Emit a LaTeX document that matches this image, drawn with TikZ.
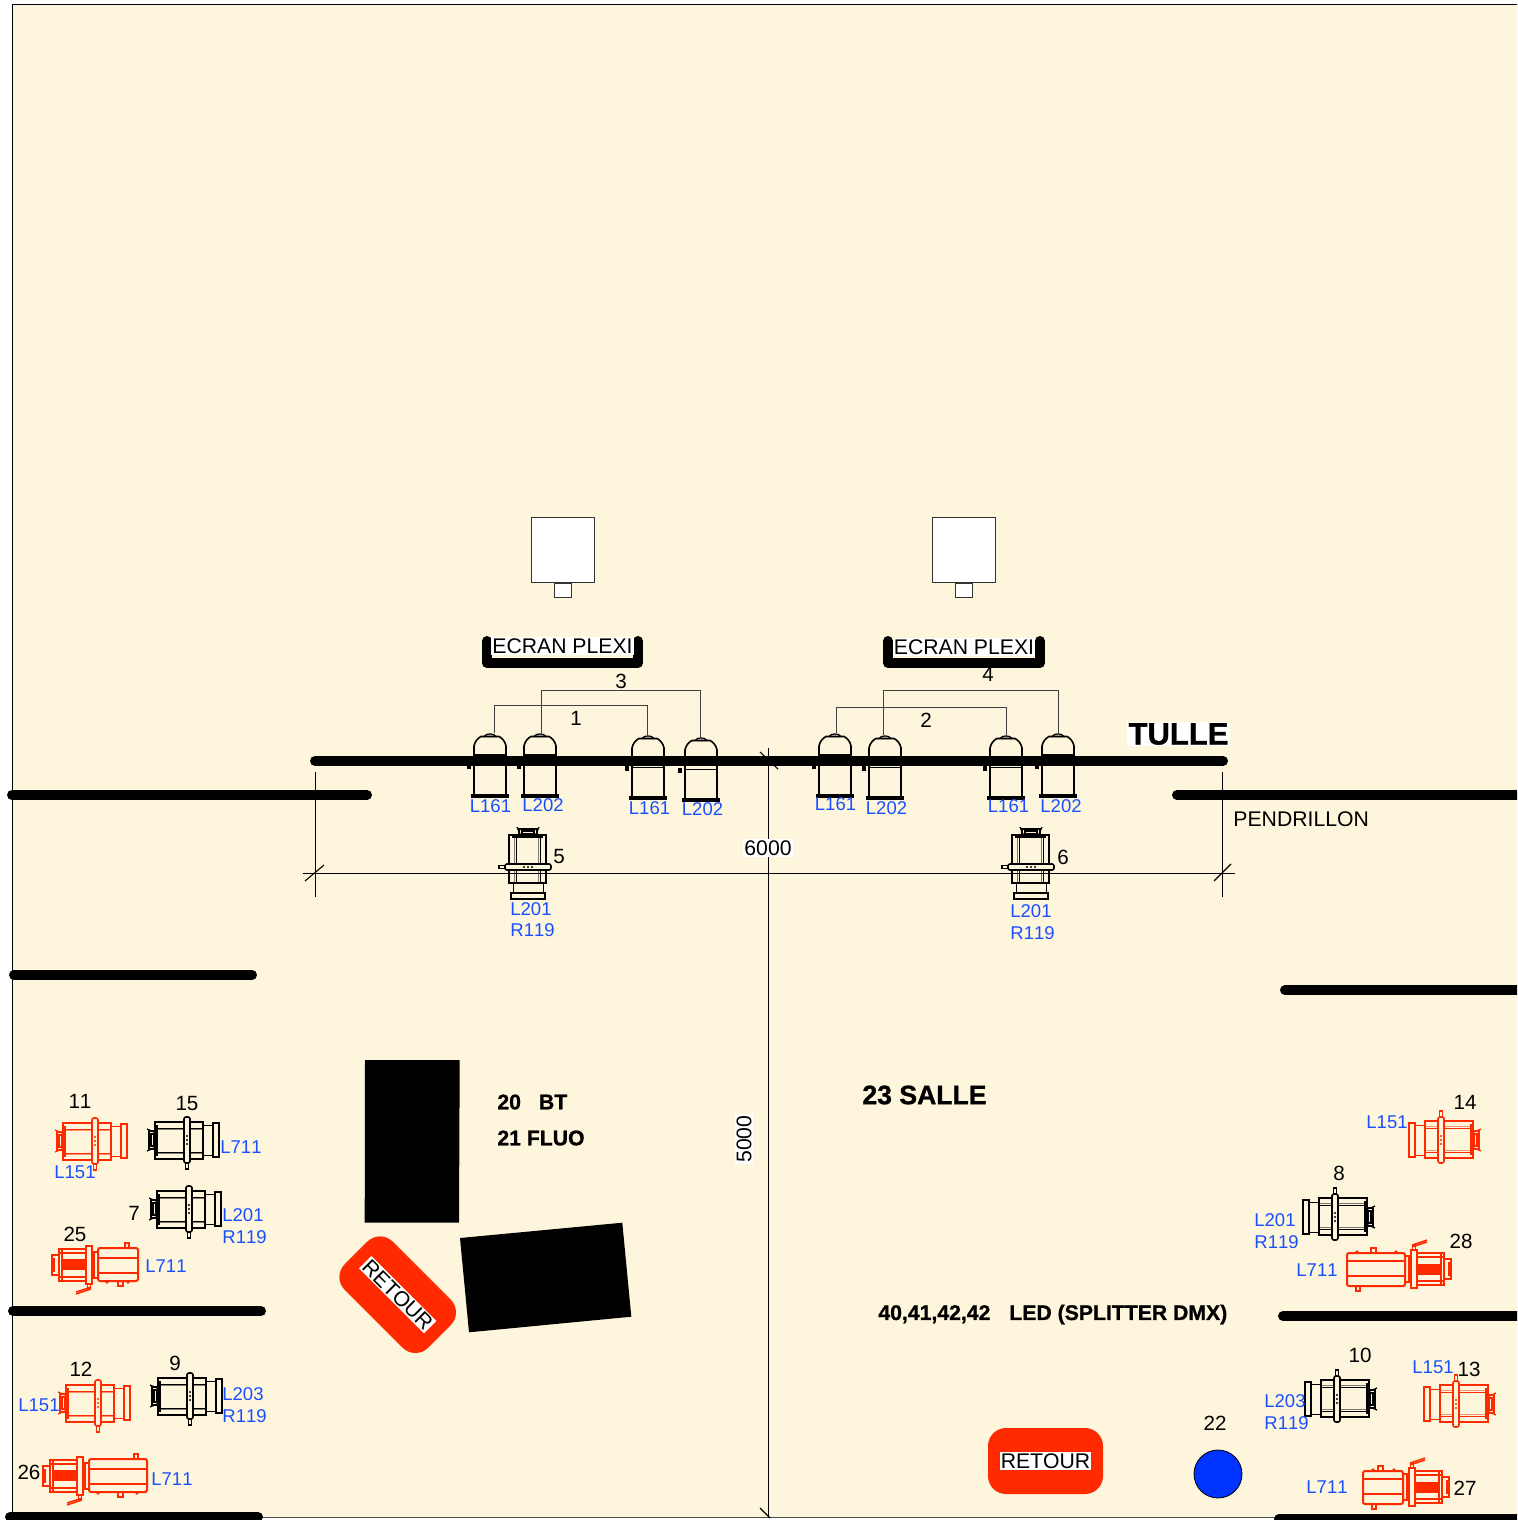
\documentclass[tikz,border=0pt]{standalone}
\usepackage{fontspec}
\setmainfont{Liberation Sans}[Kerning=Off]
\newfontfamily\heavyfont[FakeBold=1,Kerning=Off]{Liberation Sans Bold}
\definecolor{cream}{HTML}{FDF5DC}
\definecolor{plotred}{HTML}{FF2A00}
\definecolor{gelblue}{HTML}{1A4FFF}
\definecolor{disc}{HTML}{0033FF}
\tikzset{
  curtain/.style={line width=5pt,line cap=round},
  thin line/.style={line width=.45pt,black},
  wire/.style={line width=.5pt,black!75},
  blocker/.style={fill=black,draw=none},
  numlabel/.style={font=\fontsize{10.3}{12}\selectfont,inner sep=0pt},
  gel/.style={font=\fontsize{9.25}{10.8}\selectfont,text=gelblue,inner sep=0pt},
  gelpair/.style={gel,align=left,anchor=west},
  plain/.style={font=\fontsize{10.6}{12}\selectfont,inner sep=0pt,text=black},
  whitetext/.style={plain,fill=white,inner sep=.6pt},
  heavy/.style={font=\heavyfont\fontsize{10.6}{12}\selectfont,inner sep=0pt,anchor=west},
  tray/.style={line width=5pt,line cap=round,line join=round},
  screenbox/.style={draw=black!80,line width=.5pt,fill=white},
  retourbox/.style={fill=plotred,minimum width=57.5pt,minimum height=33pt,rounded corners=9pt,inner sep=0pt},
  pics/parcan/.style={code={
    \draw[line width=.8pt,black] (-16,23)--(-16,13) .. controls (-15,8) and (-12,5) .. (-9,3.5)--(9,3.5) .. controls (12,5) and (15,8) .. (16,13)--(16,23);
    \draw[line width=.6pt,black,fill=black!35] (-6,3.5) .. controls (-4,0) and (4,0) .. (6,3.5)--cycle;
    \draw[line width=.8pt,black] (-17,22)--(17,22);
    \draw[line width=.8pt,black] (-16,23)--(-16,62) (16,23)--(16,62);
    \fill[black] (-19,61) rectangle (19,64.5);
    \fill[black] (-23,31) rectangle (-19,36);
    \draw[line width=.5pt,black] (-16,32)--(16,32);
  }},
  pics/spotunit/.style={code={
    \begin{scope}[draw=#1,line width=.5pt]
    \draw[line width=.9pt] (-32,-18) rectangle (16,19);
    \draw (-32,-12)--(16,-12) (-32,12)--(16,12);
    \draw[draw opacity=.5] (-32,-10.5)--(16,-10.5) (-32,13.5)--(16,13.5);
    \draw[line width=.7pt] (-30,-15)--(-30,16);
    \draw (16,-15)--(26,-15) (16,15)--(26,15);
    \draw[line width=.85pt] (26,-17) rectangle (32,17);
    \draw[line width=.8pt] (-32,-9)--(-38,-9)--(-38,9)--(-32,9);
    \draw[line width=.6pt] (-36,-6) rectangle (-33,6);
    \draw[line width=.6pt] (-40,-11)--(-33,-8) (-40,11)--(-33,8);
    \draw[fill=cream,rounded corners=1pt,line width=.8pt] (-3,-23) rectangle (3,23);
    \draw[line width=.6pt] (-1.5,23) rectangle (1.5,29);
    \fill[#1] (0,-4) circle (1.2) (0,0) circle (1.2) (0,4) circle (1.2);
    \end{scope}
  }},
  pics/ledunit/.style 2 args={code={
    \begin{scope}[draw=#1,line width=.55pt]
    \draw[line width=.9pt] (-30,-16) rectangle (-3,16);
    \draw (-30,-12)--(-3,-12) (-30,12)--(-3,12);
    \draw (-27,-16)--(-27,16);
    \fill[#1] (-26,-6) rectangle (-3,5);
    \draw[line width=.8pt] (-30,-10)--(-37,-10)--(-37,10)--(-30,10);
    \draw (-35,-7)--(-35,7);
    \draw[line width=.8pt,fill=cream] (-3,-19) rectangle (3,19);
    \draw (-1.5,19) rectangle (1.5,24);
    \draw[line width=.7pt] (2,22)--(-13,27) (2,24)--(-13,29);
    \draw (3,-13)--(8,-13) (3,13)--(8,13) (5,-13)--(5,13);
    \draw[line width=1pt,rounded corners=1pt] (9,-17) rectangle (9+#2,16);
    \draw (9,-7)--(9+#2,-7) (9,8)--(9+#2,8);
    \draw (9+#2-13,-22) rectangle (9+#2-9,-17);
    \fill[#1] (18,17) circle (1.8) (9+#2-10,17) circle (1.8);
    \draw (9+#2*.5,16) rectangle (9+#2*.5+5,21);
    \end{scope}
  }}
}
\begin{document}
\begin{tikzpicture}[x=.5pt,y=-.5pt]
\clip (0,0) rectangle (1517,1520);
\fill[white] (0,0) rectangle (1517,1520);
\fill[cream] (12.5,5) rectangle (1517,1517);
\draw[line width=.4pt,black!70] (12.5,1517)--(1517,1517);
\draw[line width=.5pt,black] (12.5,1520)--(12.5,5)--(1517,5);

% screens
\node[screenbox,minimum width=31.5pt,minimum height=32.5pt,inner sep=0pt] (scrA) at (562.5,549.5) {};
\node[screenbox,minimum width=8.5pt,minimum height=7pt,inner sep=0pt,anchor=north] (scrAb) at (scrA.south) {};
\node[screenbox,minimum width=31.5pt,minimum height=32.5pt,inner sep=0pt] (scrB) at (963.5,549.5) {};
\node[screenbox,minimum width=8.5pt,minimum height=7pt,inner sep=0pt,anchor=north] (scrBb) at (scrB.south) {};

% dimension lines
\coordinate (dimL) at (303,873);
\coordinate (dimR) at (1235,873);
\coordinate (extLt) at (315,772);
\coordinate (extLb) at (315,897);
\coordinate (extRt) at (1222,772);
\coordinate (extRb) at (1222,897);
\coordinate (axisT) at (768.5,748);
\coordinate (axisB) at (768.5,1517);
\draw[thin line] (dimL)--(dimR);
\draw[thin line] (extLt)--(extLb);
\draw[thin line] (extRt)--(extRb);
\draw[thin line] (axisT)--(axisB);
\draw[line width=.55pt] (305,881)--(324,865) (1214,881)--(1231,864) (760,752)--(778,769) (760,1508)--(770,1518);
\fill[black!70] (782,1516.5) rectangle (793,1517.5);

% curtains
\draw[curtain] (315,761)--(1223,761);
\draw[curtain] (12,795)--(367,795);
\draw[curtain] (1177,795)--(1530,795);
\draw[curtain] (14,975)--(252,975);
\draw[curtain] (1285,990)--(1530,990);
\draw[curtain] (13,1311)--(261,1311);
\draw[curtain] (1283,1316)--(1530,1316);
\draw[curtain] (10,1517)--(258,1517);
\draw[curtain] (1279,1519)--(1530,1519);

% plexi trays
\draw[tray] (487,641)--(487,663)--(638,663)--(638,641);
\draw[tray] (888,641)--(888,663)--(1040,663)--(1040,641);
\node[whitetext] (plexiA) at (562.5,646) {ECRAN PLEXI};
\node[whitetext] (plexiB) at (964,647) {ECRAN PLEXI};

% top-light units
\coordinate (p1) at (490,733);
\coordinate (p2) at (540,733);
\coordinate (p3) at (648,735);
\coordinate (p4) at (701,737);
\coordinate (p5) at (835,733);
\coordinate (p6) at (885,735);
\coordinate (p7) at (1006,735);
\coordinate (p8) at (1058,733);
\foreach \u in {p1,p2,p3,p4,p5,p6,p7,p8} {\pic at (\u) {parcan};}
\draw[wire] ([xshift=2pt]p1)--++(0,-28)-|([xshift=-.5pt]p3);
\draw[wire] ([xshift=.5pt]p2)--++(0,-43)-|([xshift=-.5pt]p4);
\draw[wire] ([xshift=.5pt]p5)--++(0,-26)-|(p7);
\draw[wire] ([xshift=-1pt]p6)--++(0,-45)-|(p8);

% spots
\pic[rotate=-90] at (528,867) {spotunit=black};
\pic[rotate=-90] at (1031,867) {spotunit=black};
\pic at (95,1141) {spotunit=plotred};
\pic at (187,1140) {spotunit=black};
\pic at (189,1209) {spotunit=black};
\pic at (98,1403) {spotunit=plotred};
\pic at (190,1396) {spotunit=black};
\pic[rotate=180] at (1441,1140) {spotunit=plotred};
\pic[rotate=180] at (1335,1217) {spotunit=black};
\pic[rotate=180] at (1337,1399) {spotunit=black};
\pic[rotate=180] at (1456,1404) {spotunit=plotred};

% LED units
\pic at (89,1265) {ledunit={plotred}{40}};
\pic at (80,1476) {ledunit={plotred}{58}};
\pic[rotate=180] at (1414,1269) {ledunit={plotred}{58}};
\pic[rotate=180] at (1412,1487) {ledunit={plotred}{40}};

% blocks
\fill[blocker] (365,1060)--(459.7,1060)--(459,1222.7)--(364.7,1222.7)--cycle;
\fill[blocker] (460,1238)--(622.3,1222.7)--(631.3,1316.7)--(469,1332.3)--cycle;

% exits
\node[retourbox,rotate=-45,minimum width=59pt,minimum height=34pt] (retA) at (397.7,1294.7) {};
\node[whitetext,rotate=-45] (retAt) at (retA.center) {RETOUR};
\node[retourbox] (retB) at (1045.5,1461) {};
\node[whitetext] (retBt) at (retB.center) {RETOUR};
\node[circle,draw=black,line width=.4pt,fill=disc,minimum size=24pt,inner sep=0pt] (discA) at (1218,1474) {};

% big labels
\node[font=\heavyfont\fontsize{15.5}{18}\selectfont,fill=white,inner sep=.8pt] (tulle) at (1178.5,734) {TULLE};
\node[plain,anchor=west] (pend) at (1233,819) {PENDRILLON};
\node[whitetext] (dimA) at (768,848) {6000};
\node[whitetext,rotate=90] (dimB) at (744,1139) {5000};
\node[heavy] (bt) at (497,1102) {20\hspace{9pt}BT};
\node[heavy] (fluo) at (497,1138) {21 FLUO};
\node[heavy,font=\heavyfont\fontsize{13.3}{16}\selectfont] (salle) at (862,1095) {23 SALLE};
\node[heavy] (ledtxt) at (878,1314.5) {40,41,42,42\hspace{9.5pt}LED (SPLITTER DMX)};

% circuit numbers
\foreach \n/\x/\y in {5/559/857,6/1063/857,3/621/681,1/576/718,2/926/720,4/988/674,
  11/80/1101,15/187/1104,7/134/1213,25/75/1234,12/81/1369,9/175/1363,26/29/1472,
  14/1465/1102,8/1339/1173,28/1461/1241,10/1360/1355,13/1469/1369,27/1465/1488,22/1215/1423}
  {\node[numlabel] (num\n) at (\x,\y) {\n};}

% gels
\foreach \i/\t/\x/\y in {a/L161/490.5/806,b/L202/543/805,c/L161/649.5/808,d/L202/702.5/809,
  e/L161/835.5/804,f/L202/886.5/808,g/L161/1008.5/806,h/L202/1061/806,
  i/L151/75/1172,j/L711/241/1147,k/L711/166/1266,l/L151/39/1405,m/L711/172/1479,
  n/L151/1387/1122,o/L711/1317/1270,p/L151/1433/1367,q/L711/1327/1487}
  {\node[gel] (gel\i) at (\x,\y) {\t};}
\node[gelpair] (pairA) at (510,919.5) {L201\\R119};
\node[gelpair] (pairB) at (1010,922) {L201\\R119};
\node[gelpair] (pairC) at (222,1226) {L201\\R119};
\node[gelpair] (pairD) at (222,1405) {L203\\R119};
\node[gelpair] (pairE) at (1254,1231) {L201\\R119};
\node[gelpair] (pairF) at (1264,1412) {L203\\R119};
\end{tikzpicture}
\end{document}
